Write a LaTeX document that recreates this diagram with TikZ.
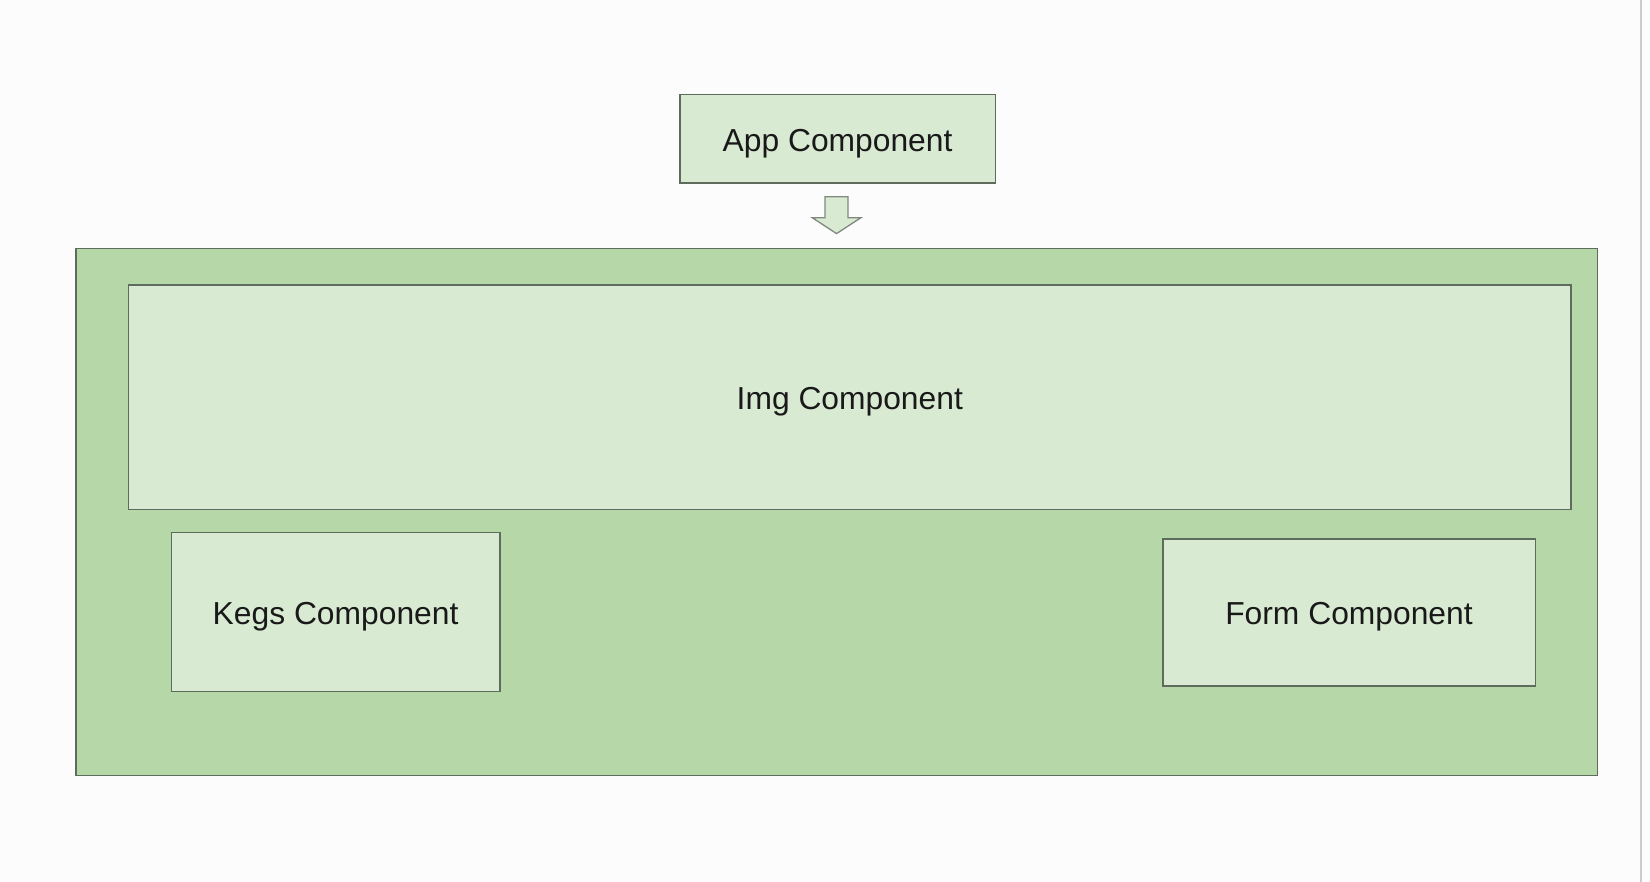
\documentclass[tikz,border=0pt]{standalone}
\usepackage{fontspec}
\setmainfont{Liberation Sans}
\definecolor{lightg}{HTML}{D9EAD3}
\definecolor{darkg}{HTML}{B6D7A8}
\definecolor{bord}{HTML}{5F6B5C}
\begin{document}
\begin{tikzpicture}[x=1pt,y=-1pt,
  box/.style={draw=bord,line width=1.5pt,fill=lightg},
  lbl/.style={font=\fontsize{31.8}{36}\selectfont,text=black!90}]
\useasboundingbox[fill=white!99!black] (0,0) rectangle (1650,882);
\draw[black!20,line width=1.2pt] (1641,0) -- (1641,882);
% outer container
\draw[draw=bord,line width=1.5pt,fill=darkg] (75.8,248.3) rectangle (1597.4,775.5);
% app
\draw[box] (679.8,94.7) rectangle (995.5,183.1);
\node[lbl] (app) at (837.6,143.5) {App Component};
% arrow
\coordinate (atop) at (836.5,196.8);
\draw[draw=bord!80,line width=1.3pt,fill=lightg,line join=miter]
  (825,196.8) -- (848,196.8) -- (848,217.8) -- (860.8,217.8) -- (836.5,233.6)
  -- (812.4,217.8) -- (825,217.8) -- cycle;
% img
\draw[box] (128.4,285.2) rectangle (1571.1,509.3);
\node[lbl] (img) at (849.8,402) {Img Component};
% kegs
\draw[box] (171.5,532.5) rectangle (499.8,691.4);
\node[lbl] (kegs) at (335.6,616.5) {Kegs Component};
% form
\draw[box] (1162.8,538.8) rectangle (1535.3,686.1);
\node[lbl] (form) at (1349,616.5) {Form Component};
\end{tikzpicture}
\end{document}
